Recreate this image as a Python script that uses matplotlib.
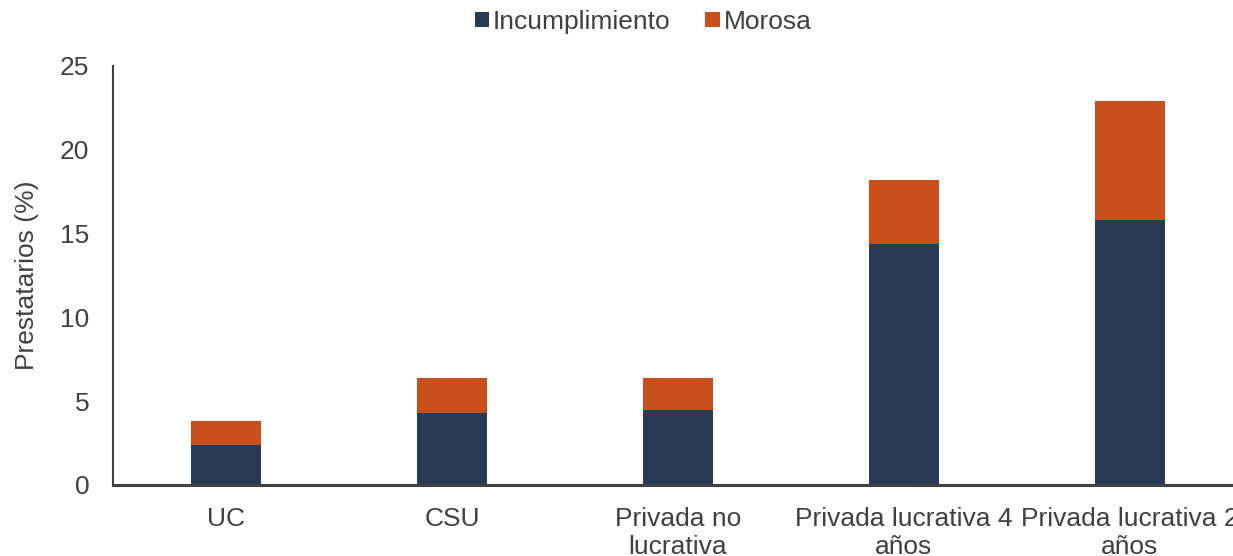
import matplotlib
matplotlib.use("Agg")
import matplotlib.pyplot as plt
import numpy as np

plt.rcParams['font.family'] = ['Liberation Sans', 'DejaVu Sans']

categories = ["UC", "CSU", "Privada no\nlucrativa", "Privada lucrativa 4\naños", "Privada lucrativa 2\naños"]
incumplimiento = [2.4, 4.3, 4.5, 14.4, 15.8]
morosa = [1.4, 2.1, 1.9, 3.8, 7.1]
yticks = [0, 5, 10, 15, 20, 25]

navy = "#293a54"
orange = "#c9501c"
txt = "#404040"
fs = 19

fig = plt.figure(figsize=(12.33, 5.56), dpi=100)
ax = fig.add_axes([113/1233, 1 - 485/556, 1130/1233, (485-66)/556])

x = np.arange(len(categories))
w = 0.31
ax.bar(x, incumplimiento, w, color=navy, label="Incumplimiento", zorder=2)
ax.bar(x, morosa, w, bottom=incumplimiento, color=orange, label="Morosa", zorder=2)

ax.set_xlim(-0.5, len(categories) - 0.5)
ax.set_ylim(0, 25)
ax.set_yticks(yticks)
ax.set_xticks(x)
ax.set_xticklabels(categories, fontsize=fs, color=txt, linespacing=1.22)
ax.tick_params(axis='y', labelsize=fs, length=0, pad=17, colors=txt)
ax.tick_params(axis='x', length=0, pad=16)

for s in ["top", "right"]:
    ax.spines[s].set_visible(False)
ax.spines["left"].set_color("#404040")
ax.spines["left"].set_linewidth(1.5)
ax.spines["bottom"].set_color("#404040")
ax.spines["bottom"].set_linewidth(2.2)

ax.set_ylabel("Prestatarios (%)", fontsize=fs, color=txt, labelpad=15)

leg = fig.legend(loc="upper center", bbox_to_anchor=(643/1233, 1.025), ncol=2, frameon=False,
                 fontsize=fs, handlelength=0.55, handleheight=0.55, handletextpad=0.15,
                 columnspacing=1.3)
for t in leg.get_texts():
    t.set_color(txt)

fig.savefig("out.png", dpi=100)
